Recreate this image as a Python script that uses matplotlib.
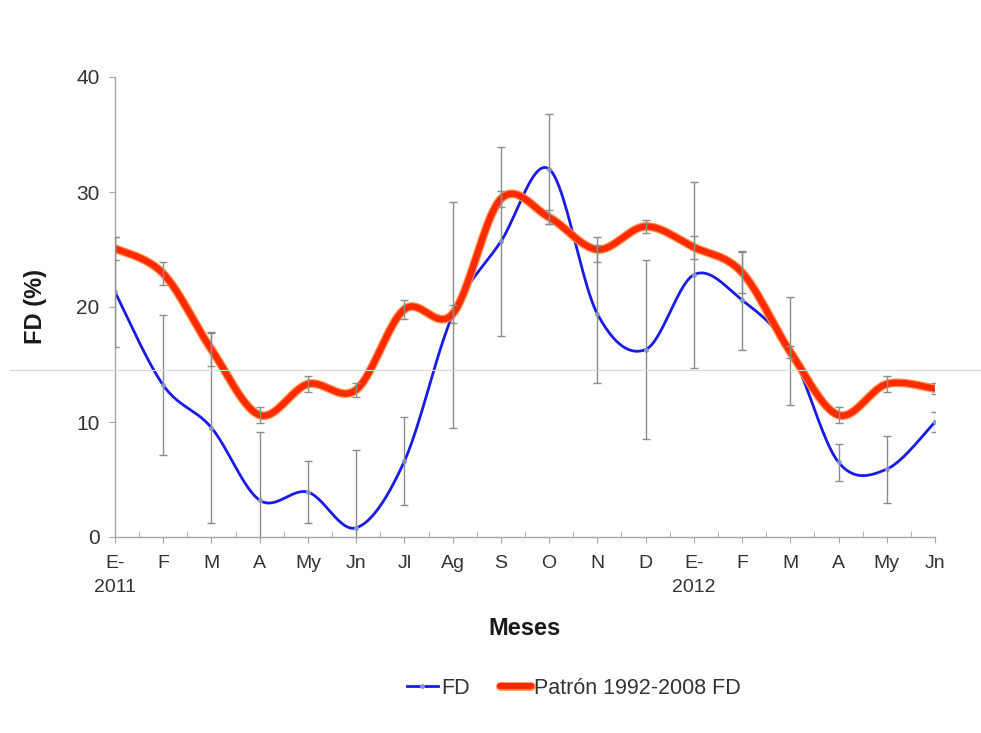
import numpy as np
import matplotlib.pyplot as plt
import matplotlib.patheffects as pe
from matplotlib.lines import Line2D

plt.rcParams['font.family'] = ['Liberation Sans', 'DejaVu Sans']

# Data
months = ["E-\n2011", "F", "M", "A", "My", "Jn", "Jl", "Ag", "S", "O",
          "N", "D", "E-\n2012", "F", "M", "A", "My", "Jn"]

fd = [21.3, 13.2, 9.5, 3.2, 3.9, 0.8, 6.6, 19.3, 25.7, 32.0,
      19.4, 16.3, 22.8, 20.6, 16.2, 6.5, 5.9, 10.0]
fd_err = [4.8, 6.1, 8.3, 5.9, 2.7, 6.8, 3.8, 9.8, 8.2, 4.8,
          6.0, 7.8, 8.1, 4.3, 4.7, 1.6, 2.9, 0.9]

patron = [25.1, 22.9, 16.3, 10.6, 13.3, 12.8, 19.8, 19.4, 29.4, 27.8,
          25.0, 27.0, 25.2, 23.0, 16.1, 10.6, 13.3, 12.9]
patron_err = [1.0, 1.0, 1.4, 0.7, 0.7, 0.6, 0.8, 0.8, 0.7, 0.6,
              1.1, 0.6, 1.0, 1.8, 0.5, 0.7, 0.7, 0.5]

x = np.arange(len(months))
N_SEG = 24


def smooth(xs, ys, n=N_SEG):
    # Excel-style smoothed line (Bezier through the points, Catmull-Rom tangents)
    pts = np.column_stack([xs, ys]).astype(float)
    out = []
    t = np.linspace(0, 1, n, endpoint=False)[:, None]
    for i in range(len(pts) - 1):
        p0 = pts[max(i - 1, 0)]
        p1 = pts[i]
        p2 = pts[i + 1]
        p3 = pts[min(i + 2, len(pts) - 1)]
        c1 = p1 + (p2 - p0) / 6
        c2 = p2 - (p3 - p1) / 6
        seg = ((1 - t) ** 3) * p1 + 3 * ((1 - t) ** 2) * t * c1 \
            + 3 * (1 - t) * t ** 2 * c2 + t ** 3 * p2
        out.append(seg)
    out.append(pts[-1:])
    curve = np.vstack(out)
    return curve[:, 0], curve[:, 1]


fig = plt.figure(figsize=(9.81, 7.33), dpi=100)
ax = fig.add_axes([115 / 981, 196 / 733, 820 / 981, 460 / 733])

blue = '#1a1ae6'
red = '#ff2a00'
grey = '#8c8c8c'

bx, by = smooth(x, fd)
rx, ry = smooth(x, patron)

ax.plot(bx, by, color=blue, lw=2, marker='o', markersize=2.5,
        markerfacecolor='#7f9be8', markeredgecolor='#7f9be8',
        markevery=N_SEG, label='FD', zorder=2)
ax.plot(rx, ry, color=red, lw=4.4, label='Patrón 1992-2008 FD', zorder=2,
        solid_capstyle='round',
        path_effects=[pe.Stroke(linewidth=6.2, foreground='#ff8a40'), pe.Normal()])

ax.errorbar(x, fd, yerr=fd_err, fmt='none', ecolor=grey, elinewidth=1,
            capsize=3, capthick=1, zorder=3)
ax.errorbar(x, patron, yerr=patron_err, fmt='none', ecolor=grey, elinewidth=1,
            capsize=3, capthick=1, zorder=3)

ax.set_xlim(0, len(months) - 1)
ax.set_ylim(0, 40)
ax.set_yticks([0, 10, 20, 30, 40])
ax.set_xticks(x)
labels = ax.set_xticklabels(months)
for lab in labels:
    lab.set_linespacing(1.5)
ax.set_xticks(x[:-1] + 0.5, minor=True)

for s in ['top', 'right']:
    ax.spines[s].set_visible(False)
for s in ['left', 'bottom']:
    ax.spines[s].set_color('#a6a6a6')
    ax.spines[s].set_linewidth(1)

ax.tick_params(axis='y', colors='#a6a6a6', labelcolor='#333333',
               labelsize=15, length=4, pad=7)
ax.tick_params(axis='x', which='major', colors='#a6a6a6', labelcolor='#333333',
               labelsize=14, length=4, pad=9)
ax.tick_params(axis='x', which='minor', colors='#a6a6a6', direction='in', length=4)

ax.set_ylabel('FD (%)', fontsize=17, fontweight='bold', color='#1a1a1a')
ax.yaxis.set_label_coords(-0.083, 0.5)
ax.set_xlabel('Meses', fontsize=17, fontweight='bold', color='#1a1a1a', va='center')
ax.xaxis.set_label_coords(0.5, -0.198)

fig.legend(loc='center', bbox_to_anchor=(0.585, 0.061), ncol=2, frameon=False,
           fontsize=15.5, handlelength=1.45, handletextpad=0.15, columnspacing=1.4,
           labelcolor='#333333')

# faint horizontal scan line that crosses the reference image
fig.add_artist(Line2D([0.01, 1.0], [1 - 370 / 733, 1 - 370 / 733],
                      color='#d9d9d9', lw=0.8, transform=fig.transFigure))

fig.savefig('out.png', dpi=100)
